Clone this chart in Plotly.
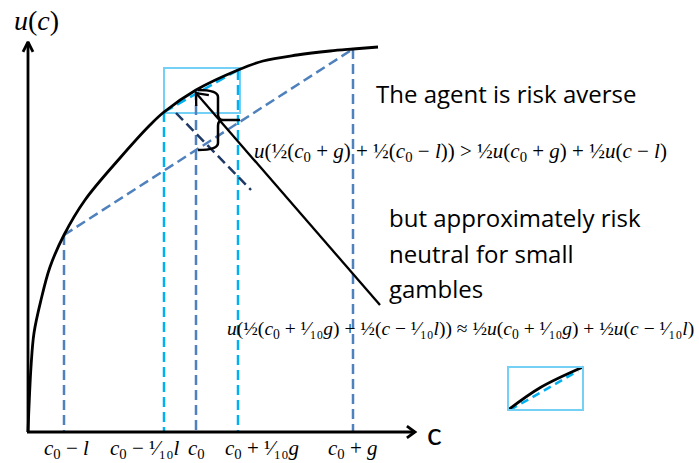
import numpy as np
import plotly.graph_objects as go

# Concave utility curve u(c), sampled at consumption levels c
curve_c = [0, 3, 6, 13, 22, 36, 57, 92, 122, 136, 168, 210, 235, 269, 302, 325, 350]
curve_u = [0, 65, 99, 132, 165, 197, 232, 274, 307, 320, 342, 362, 371, 377, 381, 383, 385]

# Consumption levels of the two gambles (large: c0-l / c0+g, small: tenth of it)
c_loss, c_small_loss, c_zero, c_small_gain, c_gain = 36, 136, 168, 210, 325

# Labels under the c axis and where their centres sit
tick_labels = [
    "<i>c</i><sub>0</sub> − <i>l</i>",
    "<i>c</i><sub>0</sub> − ¹⁄₁₀<i>l</i>",
    "<i>c</i><sub>0</sub>",
    "<i>c</i><sub>0</sub> + ¹⁄₁₀<i>g</i>",
    "<i>c</i><sub>0</sub> + <i>g</i>",
]
tick_centres = [38, 116, 168, 234, 325]

formula_large = ("<i>u</i>(½(<i>c</i><sub>0</sub> + <i>g</i>) + ½(<i>c</i><sub>0</sub> − <i>l</i>)) &gt; "
                 "½<i>u</i>(<i>c</i><sub>0</sub> + <i>g</i>) + ½<i>u</i>(<i>c</i> − <i>l</i>)")
formula_small = ("<i>u</i>(½(<i>c</i><sub>0</sub> + ¹⁄₁₀<i>g</i>) + ½(<i>c</i> − ¹⁄₁₀<i>l</i>)) ≈ "
                 "½<i>u</i>(<i>c</i><sub>0</sub> + ¹⁄₁₀<i>g</i>) + ½<i>u</i>(<i>c</i> − ¹⁄₁₀<i>l</i>)")

MID_BLUE = "#4F81BD"
CYAN = "#00B0F0"
LIGHT_CYAN = "#74D0F4"
NAVY = "#1F3864"
DASH = "10px,5px"
MATH_FONT = "Liberation Serif"
TEXT_FONT = "Open Sans"

u_of = dict(zip(curve_c, curve_u))


def chord(c_a, c_b, c):
    ua, ub = u_of[c_a], u_of[c_b]
    return ua + (c - c_a) * (ub - ua) / (c_b - c_a)


def v_head(tail, tip, length, half_angle_deg):
    tail, tip = np.array(tail, float), np.array(tip, float)
    d = (tail - tip) / np.linalg.norm(tail - tip)
    pts = []
    for s in (1, -1):
        a = np.radians(s * half_angle_deg)
        r = np.array([[np.cos(a), -np.sin(a)], [np.sin(a), np.cos(a)]])
        pts.append(tip + length * (r @ d))
    return [pts[0][0], tip[0], pts[1][0]], [pts[0][1], tip[1], pts[1][1]]


fig = go.Figure()


def seg(xs, ys, color, width=2.5, dash=None, shape="linear"):
    fig.add_trace(go.Scatter(x=xs, y=ys, mode="lines", hoverinfo="skip", showlegend=False,
                             line=dict(color=color, width=width, dash=dash, shape=shape)))


# Vertical drop lines from the curve to the c axis
for c, col in [(c_loss, MID_BLUE), (c_small_loss, CYAN), (c_zero, MID_BLUE),
               (c_small_gain, CYAN), (c_gain, MID_BLUE)]:
    seg([c, c], [u_of[c], 0], col, dash=DASH)

# Chords: expected utility of each gamble
seg([c_loss, c_gain], [u_of[c_loss], u_of[c_gain]], MID_BLUE, dash=DASH)
seg([c_small_loss, c_small_gain], [u_of[c_small_loss], u_of[c_small_gain]], CYAN, dash=DASH)

# Dark dashed guide below the small box
seg([148, 223], [319, 242], NAVY, dash=DASH)

# Window around the small gamble
fig.add_shape(type="rect", xref="x", yref="y", layer="below",
              x0=c_small_loss, x1=c_small_gain + 2, y0=u_of[c_small_loss] - 1, y1=u_of[c_small_gain] + 2,
              line=dict(color=LIGHT_CYAN, width=2))

# Utility curve
seg(curve_c, curve_u, "black", width=2.8, shape="spline")

# Axes with open arrow heads
seg([0, 0], [0, 390], "black", width=2.8)
hx, hy = v_head((0, 0), (0, 390), 11, 27)
seg(hx, hy, "black", width=2.8)
seg([-1, 387], [0, 0], "black", width=2.8)
hx, hy = v_head((0, 0), (387, 0), 10, 36)
seg(hx, hy, "black", width=2.8)

# Brace spanning u(c0) down to the large-gamble chord at c0
top, bot = u_of[c_zero], chord(c_loss, c_gain, c_zero)
mid = (top + bot) / 2
xl, xs, xt = c_zero + 2, c_zero + 22, c_zero + 44
brace = (f"M {xl},{top} Q {xs},{top} {xs},{top - 7} L {xs},{mid + 6} Q {xs},{mid} {xs + 5},{mid} "
         f"L {xt},{mid} M {xs + 5},{mid} Q {xs},{mid} {xs},{mid - 6} L {xs},{bot + 7} "
         f"Q {xs},{bot} {xl},{bot}")
fig.add_shape(type="path", xref="x", yref="y", path=brace, line=dict(color="black", width=2.5))

# Pointer arrow towards u(c0)
tail, tip = (352, 127), (c_zero, u_of[c_zero] - 3)
seg([tail[0], tip[0]], [tail[1], tip[1]], "black", width=2.3)
hx, hy = v_head(tail, tip, 13, 40)
seg(hx, hy, "black", width=2.3)

# Inset: the small window magnified
ins_x0, ins_x1, ins_y0, ins_y1 = 480, 555, 22, 65
fig.add_shape(type="rect", xref="x", yref="y", x0=ins_x0, x1=ins_x1, y0=ins_y0, y1=ins_y1,
              line=dict(color=LIGHT_CYAN, width=2))
win_c = [c for c in curve_c if c_small_loss <= c <= c_small_gain]
sx = (ins_x1 - ins_x0) / (c_small_gain - c_small_loss)
sy = (ins_y1 - ins_y0) / (u_of[c_small_gain] - u_of[c_small_loss])
map_x = lambda c: ins_x0 + (c - c_small_loss) * sx
map_y = lambda u: ins_y0 + (u - u_of[c_small_loss]) * sy
seg([map_x(c_small_loss) + 2, map_x(c_small_gain) - 5],
    [map_y(u_of[c_small_loss]), map_y(u_of[c_small_gain]) - 4], CYAN, dash="8px,5px")
seg([map_x(c) for c in win_c], [map_y(u_of[c]) for c in win_c], "black", width=2.8, shape="spline")


def text(x, y, s, size, family, xanchor="center", color="black"):
    fig.add_annotation(x=x, y=y, xref="x", yref="y", text=s, showarrow=False, xanchor=xanchor,
                       yanchor="middle", font=dict(size=size, family=family, color=color))


for c, lab in zip(tick_centres, tick_labels):
    text(c, -17, lab, 21, MATH_FONT)

text(8, 412, "<i>u</i>(<i>c</i>)", 28, MATH_FONT)
text(406, -1, "c", 31, "Lato")
text(346, 339, "The agent is risk averse", 24, TEXT_FONT, xanchor="left")
text(359, 215, "but approximately risk", 24, TEXT_FONT, xanchor="left")
text(359, 179, "neutral for small", 24, TEXT_FONT, xanchor="left")
text(359, 144, "gambles", 24, TEXT_FONT, xanchor="left")
text(224, 280, formula_large, 21, MATH_FONT, xanchor="left")
text(197, 102, formula_small, 19.5, MATH_FONT, xanchor="left")

fig.update_layout(
    width=699, height=463, margin=dict(l=0, r=0, t=0, b=0),
    paper_bgcolor="white", plot_bgcolor="white", showlegend=False,
    xaxis=dict(range=[-28, 671], visible=False, fixedrange=True),
    yaxis=dict(range=[-31, 432], visible=False, fixedrange=True),
)

fig.write_html("out.html")
